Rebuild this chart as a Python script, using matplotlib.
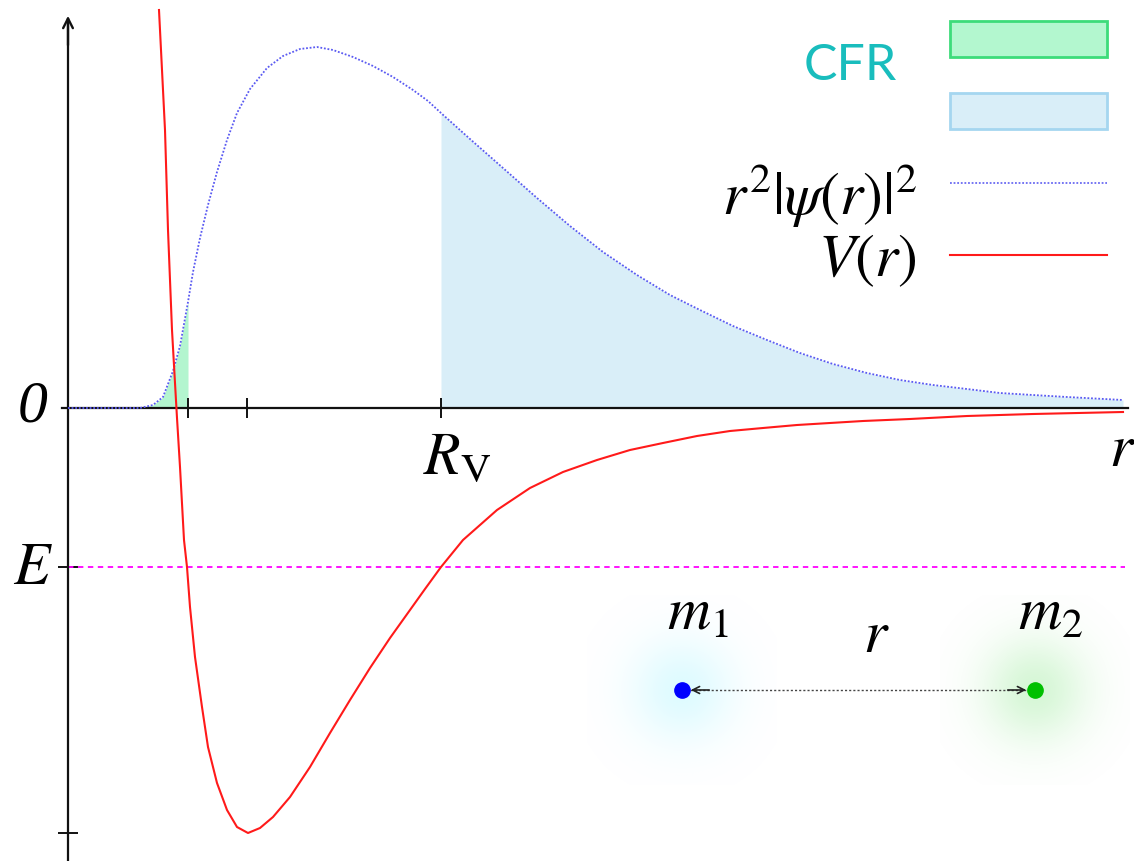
import numpy as np
import matplotlib.pyplot as plt
from matplotlib.patches import Rectangle

plt.rcParams["mathtext.fontset"] = "stix"

# Potential V(r)
r_V = [0.91, 0.92, 0.97, 1.00, 1.04, 1.07, 1.09, 1.12, 1.16, 1.19, 1.22, 1.27,
       1.34, 1.40, 1.49, 1.59, 1.69, 1.80, 1.92, 2.05, 2.22, 2.42, 2.62, 2.82,
       3.02, 3.22, 3.42, 3.57, 3.73, 3.95, 4.29, 4.62, 4.95, 5.29, 5.62, 5.95,
       6.29, 6.62, 6.95, 7.29, 7.62, 7.95, 8.42, 8.99, 9.65, 10.55]
V = [3.98, 3.78, 2.78, 1.78, 0.78, 0.25, -0.10, -0.59, -1.32, -1.59, -1.99, -2.49,
     -2.99, -3.39, -3.75, -4.02, -4.19, -4.25, -4.20, -4.09, -3.89, -3.59, -3.25, -2.92,
     -2.60, -2.30, -2.02, -1.81, -1.59, -1.32, -1.02, -0.80, -0.64, -0.52, -0.42, -0.35,
     -0.28, -0.23, -0.20, -0.17, -0.15, -0.13, -0.11, -0.08, -0.06, -0.04]

# Radial probability r^2 |psi(r)|^2
r_P = [0.00, 0.72, 0.85, 0.95, 1.05, 1.12, 1.20, 1.25, 1.32, 1.40, 1.49, 1.59,
       1.69, 1.82, 1.99, 2.15, 2.32, 2.49, 2.65, 2.85, 3.05, 3.25, 3.45, 3.60,
       3.73, 4.02, 4.35, 4.69, 5.02, 5.35, 5.69, 6.02, 6.32, 6.65, 6.99, 7.32,
       7.65, 7.99, 8.32, 8.65, 8.99, 9.32, 9.65, 9.99, 10.55]
P = [0.00, 0.00, 0.03, 0.11, 0.37, 0.62, 1.06, 1.36, 1.70, 2.03, 2.36, 2.68,
     2.95, 3.19, 3.40, 3.52, 3.59, 3.61, 3.58, 3.51, 3.42, 3.31, 3.18, 3.07,
     2.95, 2.69, 2.40, 2.10, 1.82, 1.56, 1.33, 1.13, 0.98, 0.82, 0.68, 0.55,
     0.44, 0.35, 0.28, 0.23, 0.19, 0.15, 0.13, 0.11, 0.08]

# Marked positions
R_CFR = 1.20      # end of the classically forbidden region
R_MIN = 1.79      # bottom of the well
R_VDW = 3.73      # R_V
E_LEVEL = -1.59
V_MIN = -4.25

# The two bodies of the inset
body_x = [6.14, 9.67]
body_y = -2.82
body_labels = ["$m_1$", "$m_2$"]

r_P = np.array(r_P)
P = np.array(P)

fig = plt.figure(figsize=(11.34, 8.61), dpi=100)
ax = fig.add_axes([0, 0, 1, 1])

########################################################################
# shaded regions and curves

ax.fill_between(r_P, P, where=r_P <= R_CFR, color="#b3f5cf", lw=0, zorder=1)
ax.fill_between(r_P, P, where=r_P >= R_VDW, color="#d9eef8", lw=0, zorder=1)
ax.plot(r_P, P, color="#5a5af2", lw=1.3, ls=(0, (1, 1)), zorder=3)
ax.plot(r_V, V, color="#ff1a1a", lw=1.5, zorder=4)
ax.plot([0, 10.57], [E_LEVEL, E_LEVEL], color="#ff00ff", lw=1.3,
        ls=(0, (3, 2.5)), zorder=2)

########################################################################
# axes with arrows

ax.spines["top"].set_visible(False)
ax.spines["right"].set_visible(False)
for side in ["left", "bottom"]:
    ax.spines[side].set_position(("data", 0))
    ax.spines[side].set_linewidth(1.6)
    ax.spines[side].set_color("#111111")
ax.spines["left"].set_bounds(-4.6, 3.85)
ax.spines["bottom"].set_bounds(-0.06, 10.6)

ax.set_xticks([R_CFR, R_MIN, R_VDW])
ax.set_yticks([E_LEVEL, V_MIN])
ax.set_xticklabels([])
ax.set_yticklabels([])
ax.tick_params(direction="inout", length=14, width=1.4, color="#111111")

ax.annotate("", xy=(0, 3.95), xytext=(0, 3.6),
            arrowprops=dict(arrowstyle="->,head_length=0.7,head_width=0.35",
                            lw=1.7, color="#111111"))
ax.annotate("", xy=(10.68, 0), xytext=(10.3, 0),
            arrowprops=dict(arrowstyle="->,head_length=0.7,head_width=0.35",
                            lw=1.7, color="#111111"))

size = 43
ax.text(-0.35, 0, "0", fontsize=size, family="Liberation Serif", style="italic",
        ha="center", va="center")
ax.text(-0.35, E_LEVEL, "$E$", fontsize=size, ha="center", va="center")
ax.text(R_VDW - 0.18, -0.2, r"$R_\mathrm{V}$", fontsize=size, ha="left", va="top")
ax.text(10.54, -0.42, "$r$", fontsize=size, ha="center", va="center")

########################################################################
# two-body inset

glow_colors = [(0.6, 0.95, 1.0), (0.5, 0.9, 0.5)]
dot_colors = ["#0000ff", "#00c000"]
g = np.linspace(-1, 1, 121)
gx, gy = np.meshgrid(g, g)
for x, gc, dc, lab in zip(body_x, glow_colors, dot_colors, body_labels):
    img = np.zeros((121, 121, 4))
    img[..., :3] = gc
    img[..., 3] = 0.32 * np.exp(-(gx ** 2 + gy ** 2) / 0.3)
    ax.imshow(img, extent=[x - 0.95, x + 0.95, body_y - 0.95, body_y + 0.95],
              origin="lower", interpolation="bilinear", aspect="auto", zorder=1)
    ax.plot(x, body_y, "o", color=dc, ms=11, zorder=6)
    ax.text(x + 0.16, body_y + 0.6, lab, fontsize=size, ha="center", va="baseline")

ax.plot(body_x, [body_y, body_y], color="#444444", lw=1, ls=(0, (1.5, 1.5)), zorder=5)
for x0, x1 in [(body_x[0] + 0.3, body_x[0] + 0.06), (body_x[1] - 0.3, body_x[1] - 0.06)]:
    ax.annotate("", xy=(x1, body_y), xytext=(x0, body_y),
                arrowprops=dict(arrowstyle="->,head_length=0.5,head_width=0.25",
                                lw=1.2, color="#222222"), zorder=7)
ax.text(np.mean(body_x) + 0.18, body_y + 0.38, "$r$", fontsize=size,
        ha="center", va="baseline")

########################################################################
# legend drawn by hand

ax.add_patch(Rectangle((0.8377, 0.9338), 0.1385, 0.0418, transform=ax.transAxes,
                       facecolor="#b3f7cf", edgecolor="#3ddc7a", lw=2, zorder=5))
ax.add_patch(Rectangle((0.8377, 0.8502), 0.1385, 0.0418, transform=ax.transAxes,
                       facecolor="#d9eef8", edgecolor="#a5d6f0", lw=2, zorder=5))
ax.plot([0.8377, 0.9762], [0.7875, 0.7875], transform=ax.transAxes,
        color="#6a6af2", lw=1.3, ls=(0, (1, 1)))
ax.plot([0.8377, 0.9762], [0.7038, 0.7038], transform=ax.transAxes,
        color="#ff1a1a", lw=1.5)

ax.text(0.7496, 0.923, "CFR", transform=ax.transAxes, fontsize=36,
        family="Lato", color="#19bdbd", ha="center", va="center")
ax.text(0.8086, 0.7735, r"$r^2|\psi(r)|^2$", transform=ax.transAxes,
        fontsize=size, ha="right", va="center")
ax.text(0.8086, 0.698, "$V(r)$", transform=ax.transAxes,
        fontsize=size, ha="right", va="center")

ax.set_xlim(-0.68, 10.66)
ax.set_ylim(-4.53, 4.08)

plt.savefig("out.png", dpi=100)
